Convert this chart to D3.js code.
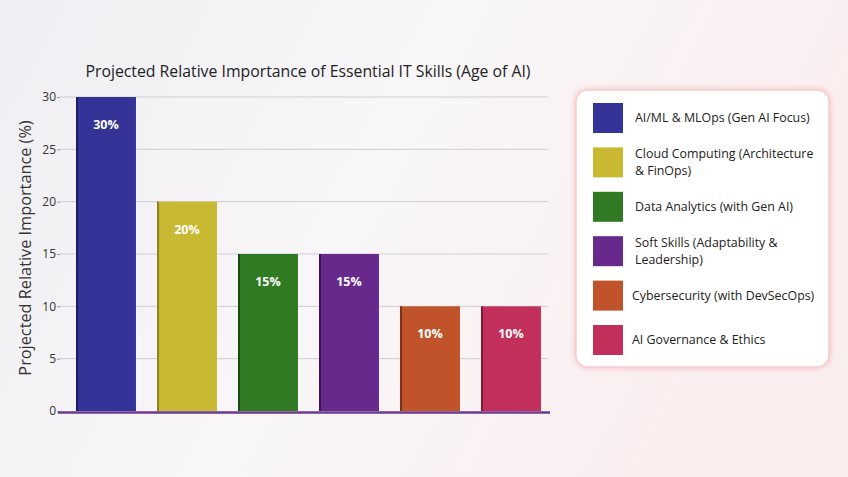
<!DOCTYPE html>
<html><head><meta charset="utf-8">
<script src="https://cdn.jsdelivr.net/npm/d3@7"></script>
<style>html,body{margin:0;padding:0;width:848px;height:477px;overflow:hidden;}</style>
</head><body>
<svg id="chart" width="848" height="477"></svg>
<script>
const categories = ["AI/ML & MLOps (Gen AI Focus)", "Cloud Computing (Architecture & FinOps)", "Data Analytics (with Gen AI)", "Soft Skills (Adaptability & Leadership)", "Cybersecurity (with DevSecOps)", "AI Governance & Ethics"];
const legendLines = [["AI/ML & MLOps (Gen AI Focus)"], ["Cloud Computing (Architecture", "& FinOps)"], ["Data Analytics (with Gen AI)"], ["Soft Skills (Adaptability &", "Leadership)"], ["Cybersecurity (with DevSecOps)"], ["AI Governance & Ethics"]];
const values = [30, 20, 15, 15, 10, 10];
const colors = ["#343498", "#c8b832", "#2f7a22", "#67298c", "#c1532a", "#c22f5a"];
const edgeColors = ["#1c1c66", "#8e8220", "#184d12", "#3e1260", "#7f2f14", "#7f1a38"];
const yTicks = [0, 5, 10, 15, 20, 25, 30];
const title = "Projected Relative Importance of Essential IT Skills (Age of AI)";
const yLabel = "Projected Relative Importance (%)";

const svg = d3.select("#chart");
const defs = svg.append("defs");
const bg = defs.append("linearGradient").attr("id", "bg").attr("x1", "0").attr("y1", "0").attr("x2", "1").attr("y2", "0.3");
bg.append("stop").attr("offset", "0").attr("stop-color", "#efeef2");
bg.append("stop").attr("offset", "0.5").attr("stop-color", "#f8f6f8");
bg.append("stop").attr("offset", "1").attr("stop-color", "#fbeeef");
svg.append("rect").attr("width", 848).attr("height", 477).attr("fill", "url(#bg)");
const sh = defs.append("filter").attr("id", "sh").attr("x", "-10%").attr("y", "-10%").attr("width", "120%").attr("height", "120%");
sh.append("feDropShadow").attr("dx", 0).attr("dy", 0).attr("stdDeviation", 3).attr("flood-color", "#f2a8a8").attr("flood-opacity", 0.8);

const x = d3.scaleBand().domain(categories).range([65.5, 551.5]).paddingInner(0.26).paddingOuter(0.13);
const y = d3.scaleLinear().domain([0, 30]).range([411, 97]);

const font = "'Open Sans', sans-serif";

// grid
svg.append("g").selectAll("line").data(yTicks.filter(d => d > 0)).join("line")
  .attr("x1", 60).attr("x2", 548).attr("y1", d => y(d)).attr("y2", d => y(d))
  .attr("stroke", "#cfcdd3").attr("stroke-width", 1);

// axis
const yAxis = d3.axisLeft(y).tickValues(yTicks).tickSize(3).tickPadding(1);
const ga = svg.append("g").attr("transform", "translate(60,0)").call(yAxis);
ga.select(".domain").remove();
ga.selectAll(".tick line").attr("stroke", "#999");
ga.selectAll(".tick text").attr("font-family", font).attr("font-size", 12).attr("fill", "#333");

// bars
const bars = svg.append("g").selectAll("g").data(categories).join("g");
bars.append("rect").attr("x", d => x(d)).attr("width", x.bandwidth())
  .attr("y", (d, i) => y(values[i])).attr("height", (d, i) => y(0) - y(values[i]))
  .attr("fill", (d, i) => colors[i]);
bars.append("rect").attr("x", d => x(d)).attr("width", 2)
  .attr("y", (d, i) => y(values[i])).attr("height", (d, i) => y(0) - y(values[i]))
  .attr("fill", (d, i) => edgeColors[i]);
bars.append("text").attr("x", d => x(d) + x.bandwidth() / 2)
  .attr("y", (d, i) => y(values[i]) + 32)
  .attr("text-anchor", "middle").attr("font-family", font).attr("font-weight", "bold")
  .attr("font-size", 12.5).attr("fill", "#fff").text((d, i) => values[i] + "%");

// x axis line
svg.append("line").attr("x1", 58).attr("x2", 550).attr("y1", 412.5).attr("y2", 412.5)
  .attr("stroke", "#6b3a8e").attr("stroke-width", 2.5);

// title
svg.append("text").attr("x", 308).attr("y", 77).attr("text-anchor", "middle")
  .attr("font-family", font).attr("font-size", 15.8).attr("fill", "#222").text(title);
svg.append("text").attr("transform", "translate(31,248) rotate(-90)").attr("text-anchor", "middle")
  .attr("font-family", font).attr("font-size", 16.3).attr("fill", "#333").text(yLabel);

// legend
svg.append("rect").attr("x", 576).attr("y", 90).attr("width", 253).attr("height", 277).attr("rx", 12)
  .attr("fill", "#fff").attr("stroke", "#f5cfcf").attr("stroke-width", 1.5).attr("filter", "url(#sh)");
const ly = d3.scalePoint().domain(categories).range([118, 340]);
const lg = svg.append("g").selectAll("g").data(categories).join("g")
  .attr("transform", d => `translate(593,${ly(d)})`);
lg.append("rect").attr("x", 0).attr("y", -15).attr("width", 30).attr("height", 30).attr("fill", (d, i) => colors[i]);
lg.append("text").attr("font-family", font).attr("font-size", 12.4).attr("fill", "#222")
  .each(function (d, i) {
    const lines = legendLines[i];
    const t = d3.select(this);
    const x0 = (i >= 4) ? 39 : 42;
    lines.forEach((s, k) => {
      t.append("tspan").attr("x", x0).attr("y", (k - (lines.length - 1) / 2) * 17 + 4).text(s);
    });
  });
</script>
</body></html>
